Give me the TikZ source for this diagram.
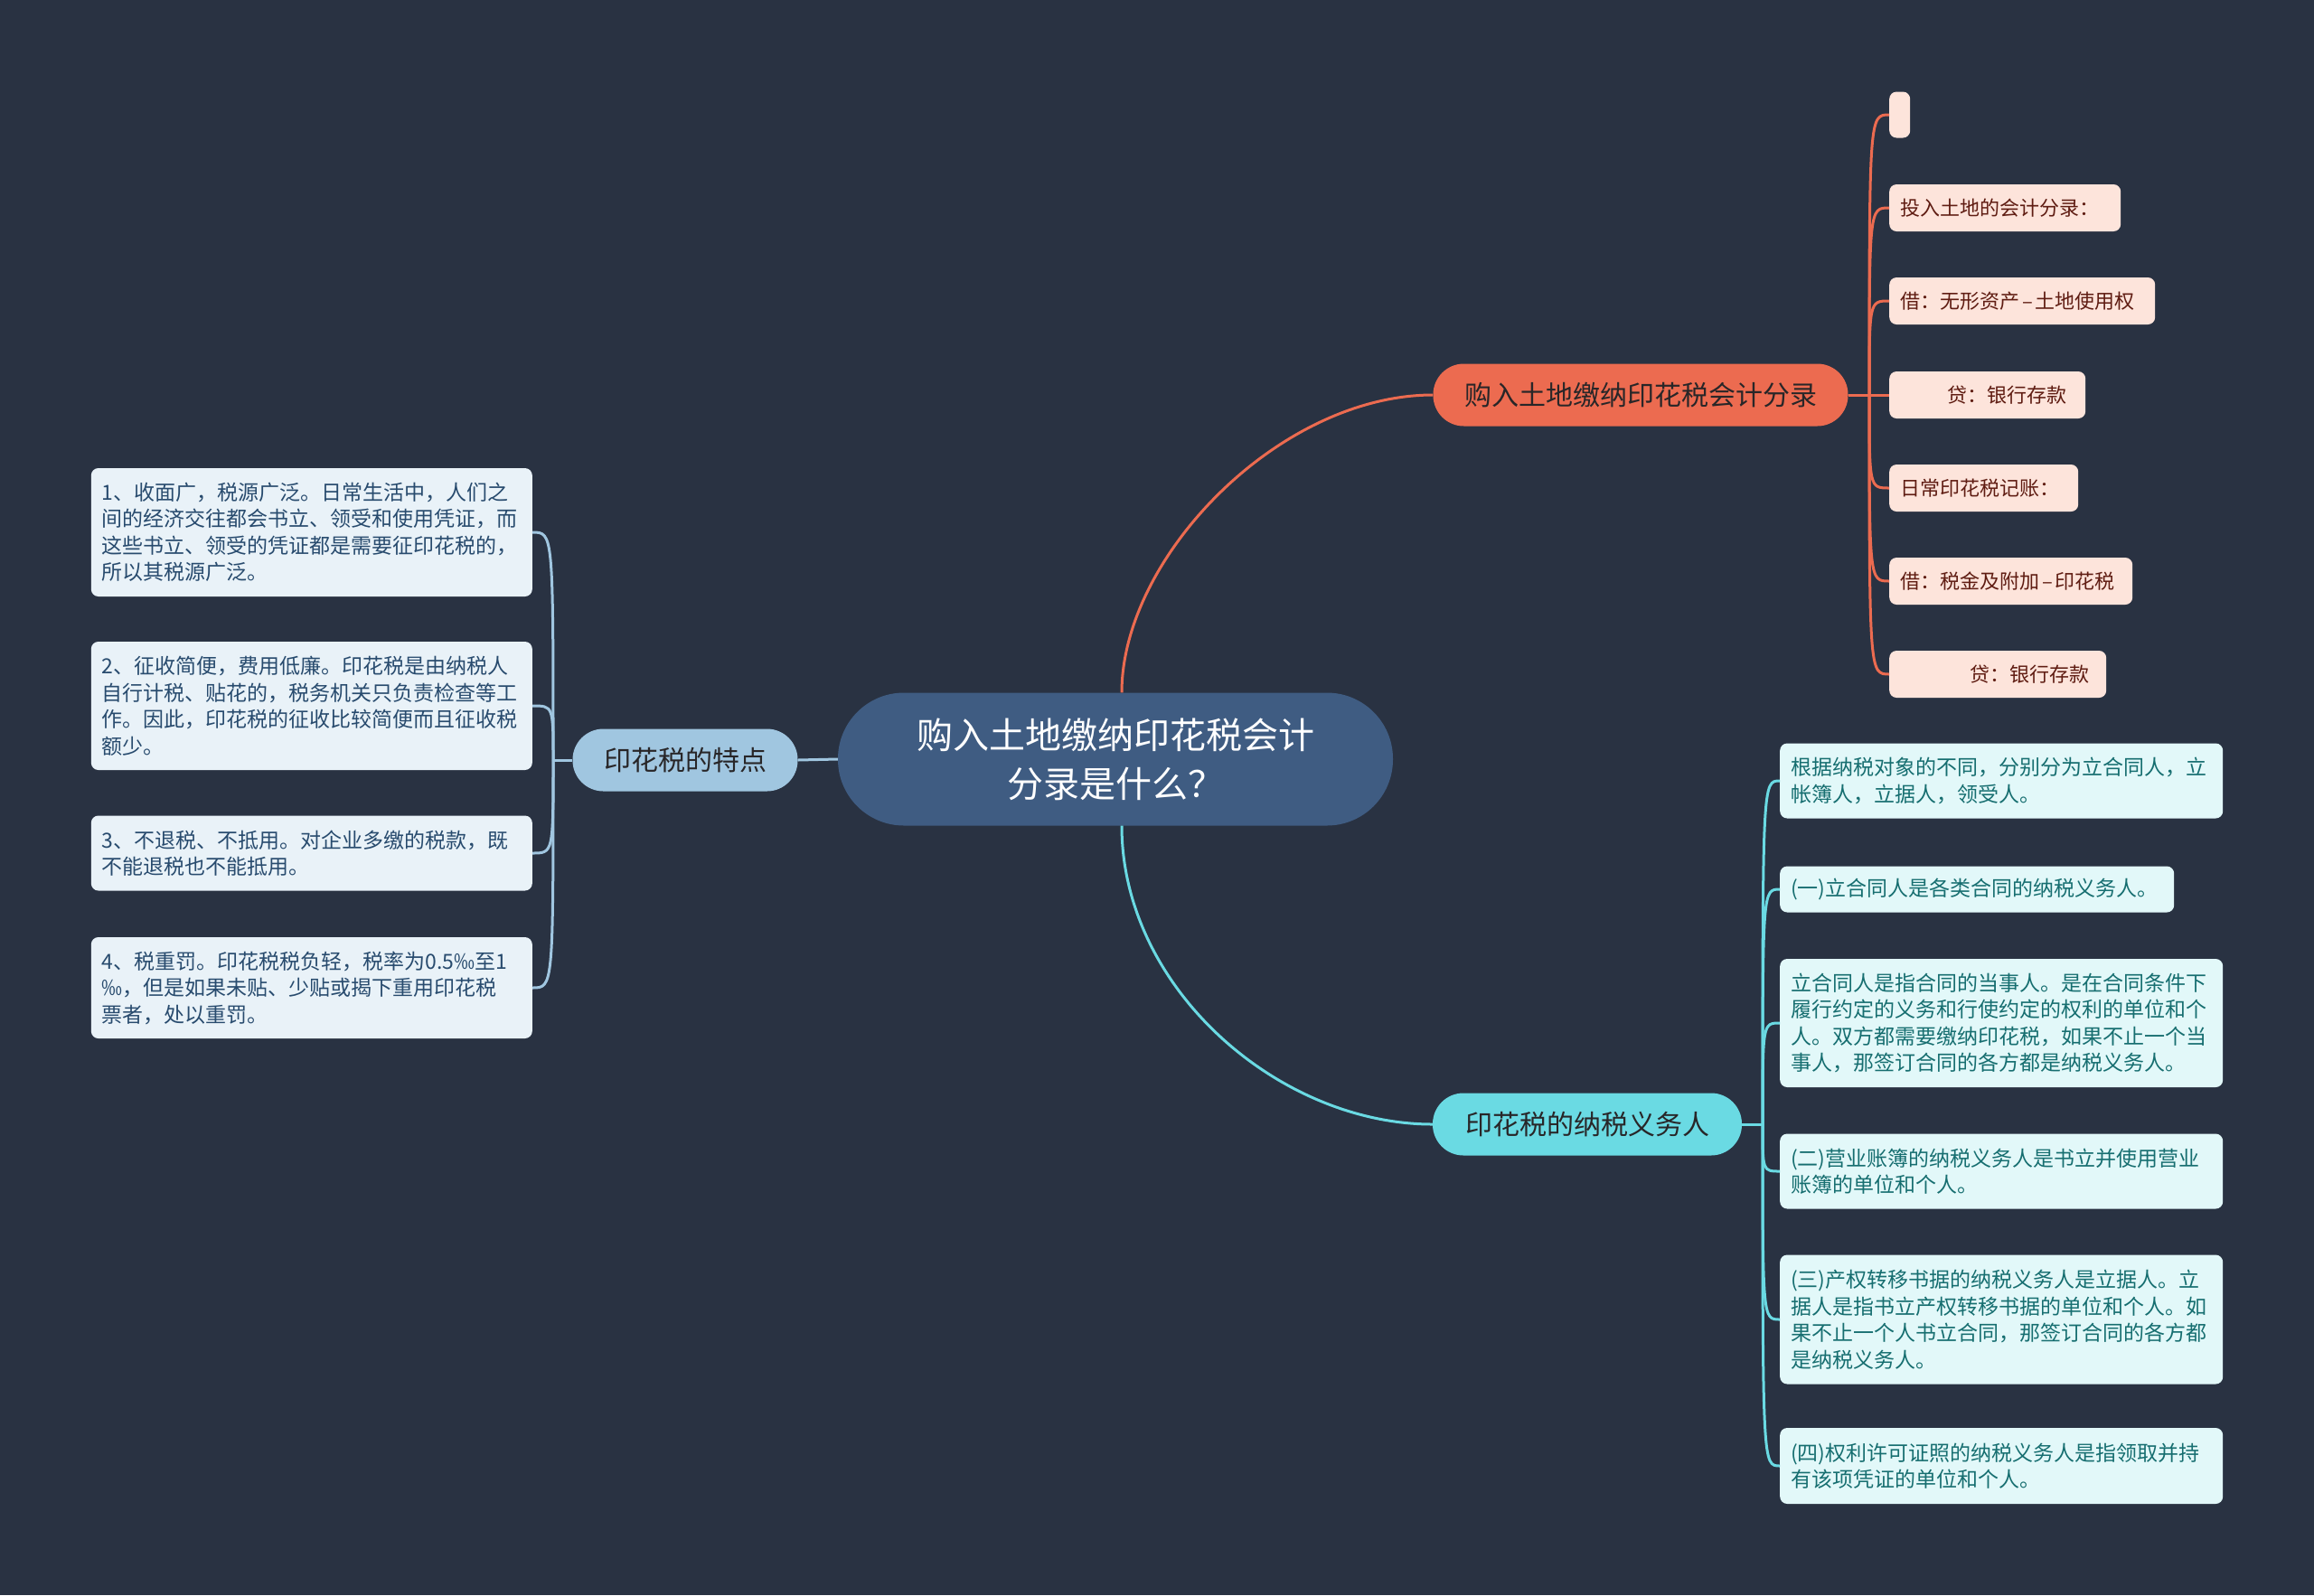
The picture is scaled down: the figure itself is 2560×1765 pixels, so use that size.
\documentclass[tikz,border=0pt]{standalone}
\usepackage{fontspec}
\setmainfont{Noto Sans CJK SC}
\definecolor{bg}{RGB}{41,50,66}
\definecolor{cfill}{RGB}{63,92,130}
\definecolor{orn}{RGB}{236,107,80}
\definecolor{cyn}{RGB}{106,218,227}
\definecolor{lbl}{RGB}{160,198,224}
\definecolor{lfO}{RGB}{253,228,219}
\definecolor{txO}{RGB}{95,28,18}
\definecolor{lfC}{RGB}{226,248,249}
\definecolor{txC}{RGB}{22,110,112}
\definecolor{lfB}{RGB}{233,242,248}
\definecolor{txB}{RGB}{40,75,110}
\definecolor{brtxt}{RGB}{40,38,40}
\newcommand{\ldash}{\hspace{3pt}–\hspace{3pt}}
\tikzset{
  brnode/.style={rounded corners=34pt, minimum height=69pt, inner sep=0pt, text=brtxt, font=\fontsize{30}{36}\selectfont},
  leafO/.style={fill=lfO, text=txO, rounded corners=8pt, inner xsep=12pt, inner ysep=0pt, minimum height=52pt, anchor=west, align=left, font=\fontsize{22}{29.5}\selectfont},
  leafC/.style={fill=lfC, text=txC, rounded corners=8pt, inner xsep=12pt, inner ysep=0pt, anchor=west, align=left, text width=466pt, font=\fontsize{23}{29.5}\selectfont},
  leafB/.style={fill=lfB, text=txB, rounded corners=8pt, inner xsep=12pt, inner ysep=0pt, anchor=east, align=left, text width=464pt, font=\fontsize{23}{29.5}\selectfont},
  lnO/.style={draw=orn, line width=3pt},
  lnC/.style={draw=cyn, line width=3pt},
  lnB/.style={draw=lbl, line width=3pt},
}
\begin{document}
\begin{tikzpicture}[x=1pt,y=-1pt]
\useasboundingbox[fill=bg] (0,0) rectangle (2560,1765);

% center
\node[fill=cfill, rounded corners=73pt, minimum width=614pt, minimum height=147pt, inner sep=0pt, text=white, align=center, font=\fontsize{40}{54}\selectfont] (c) at (1234,840) {购入土地缴纳印花税会计\\分录是什么？};

% branches
\node[brnode, fill=orn, minimum width=459pt] (b1) at (1815,437) {购入土地缴纳印花税会计分录};
\node[brnode, fill=cyn, minimum width=342pt] (b2) at (1756,1244) {印花税的纳税义务人};
\node[brnode, fill=lbl, minimum width=249pt] (b3) at (758,841) {印花税的特点};

\coordinate (c1) at ([xshift=7pt]c.north);
\coordinate (c2) at ([xshift=7pt]c.south);
\draw[lnO] (c1) .. controls +(0,-150) and +(-170,0) .. (b1.west);
\draw[lnC] (c2) .. controls +(0,180) and +(-170,0) .. (b2.west);
\draw[lnB] (b3.east) -- (c.west);

% orange leaves
\node[fill=lfO, rounded corners=8pt, minimum width=23pt, minimum height=51pt, inner sep=0pt, anchor=west] (L0) at (2090,127) {};
\node[leafO, text width=232pt] (L1) at (2090,230) {投入土地的会计分录：};
\node[leafO, text width=270pt] (L2) at (2090,333) {借：无形资产\ldash 土地使用权};
\node[leafO, text width=193pt] (L3) at (2090,437) {\hspace*{52pt}贷：银行存款};
\node[leafO, text width=185pt] (L4) at (2090,540) {日常印花税记账：};
\node[leafO, text width=245pt] (L5) at (2090,643) {借：税金及附加\ldash 印花税};
\node[leafO, text width=216pt] (L6) at (2090,746) {\hspace*{77pt}贷：银行存款};

\coordinate (j1) at (2068,437);
\draw[lnO] (b1.east) -- (j1);
\foreach \n in {L0,L1,L2,L3,L4,L5,L6}
  \draw[lnO] (j1) .. controls (j1 |- \n.west) .. (\n.west);

% cyan leaves
\node[leafC, minimum height=83pt] (R1) at (1969,864) {根据纳税对象的不同，分别分为立合同人，立\\帐簿人，立据人，领受人。};
\node[leafC, minimum height=51pt, text width=412pt] (R2) at (1969,984) {(一)立合同人是各类合同的纳税义务人。};
\node[leafC, minimum height=142pt] (R3) at (1969,1132) {立合同人是指合同的当事人。是在合同条件下\\履行约定的义务和行使约定的权利的单位和个\\人。双方都需要缴纳印花税，如果不止一个当\\事人，那签订合同的各方都是纳税义务人。};
\node[leafC, minimum height=83pt] (R4) at (1969,1296) {(二)营业账簿的纳税义务人是书立并使用营业\\账簿的单位和个人。};
\node[leafC, minimum height=143pt] (R5) at (1969,1460) {(三)产权转移书据的纳税义务人是立据人。立\\据人是指书立产权转移书据的单位和个人。如\\果不止一个人书立合同，那签订合同的各方都\\是纳税义务人。};
\node[leafC, minimum height=84pt] (R6) at (1969,1622) {(四)权利许可证照的纳税义务人是指领取并持\\有该项凭证的单位和个人。};

\coordinate (j2) at (1950,1244);
\draw[lnC] (b2.east) -- (j2);
\foreach \n in {R1,R2,R3,R4,R5,R6}
  \draw[lnC] (j2) .. controls (j2 |- \n.west) .. (\n.west);

% blue leaves
\node[leafB, minimum height=142pt] (B1) at (589,589) {1、收面广，税源广泛。日常生活中，人们之\\间的经济交往都会书立、领受和使用凭证，而\\这些书立、领受的凭证都是需要征印花税的，\\所以其税源广泛。};
\node[leafB, minimum height=142pt] (B2) at (589,781) {2、征收简便，费用低廉。印花税是由纳税人\\自行计税、贴花的，税务机关只负责检查等工\\作。因此，印花税的征收比较简便而且征收税\\额少。};
\node[leafB, minimum height=83pt] (B3) at (589,944) {3、不退税、不抵用。对企业多缴的税款，既\\不能退税也不能抵用。};
\node[leafB, minimum height=112pt] (B4) at (589,1093) {4、税重罚。印花税税负轻，税率为0.5‰至1\\‰，但是如果未贴、少贴或揭下重用印花税\\票者，处以重罚。};

\coordinate (j3) at (612,841);
\draw[lnB] (b3.west) -- (j3);
\foreach \n in {B1,B2,B3,B4}
  \draw[lnB] (j3) .. controls (j3 |- \n.east) .. (\n.east);
\end{tikzpicture}
\end{document}
